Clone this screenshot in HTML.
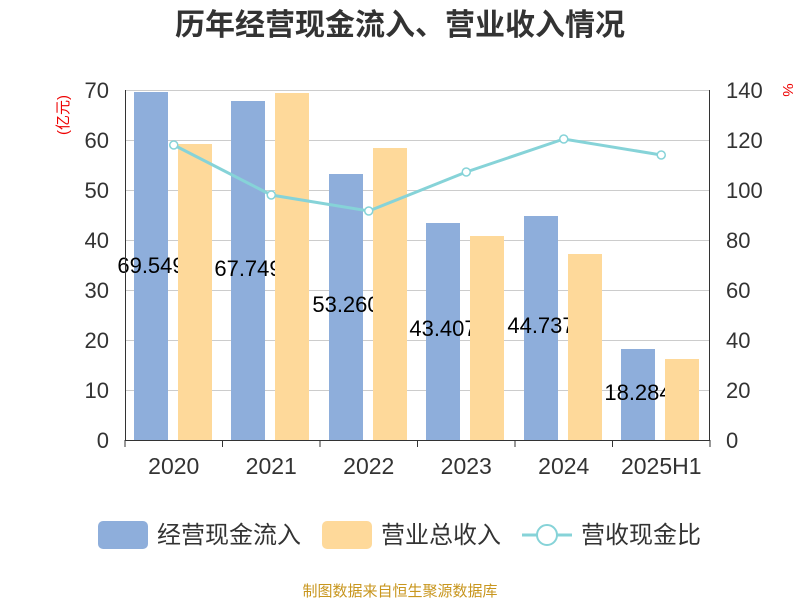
<!DOCTYPE html>
<html><head><meta charset="utf-8"><style>
body{margin:0;background:#fff}
svg text{font-family:"Liberation Sans","Noto Sans CJK SC",sans-serif}
</style></head><body>
<svg width="800" height="600" xmlns="http://www.w3.org/2000/svg">
<text x="400" y="35" text-anchor="middle" font-size="30" font-weight="bold" fill="#333">历年经营现金流入、营业收入情况</text>
<g stroke="#ccc" stroke-width="1">
<line x1="125" y1="90.5" x2="710" y2="90.5"/>
<line x1="125" y1="140.5" x2="710" y2="140.5"/>
<line x1="125" y1="190.5" x2="710" y2="190.5"/>
<line x1="125" y1="240.5" x2="710" y2="240.5"/>
<line x1="125" y1="290.5" x2="710" y2="290.5"/>
<line x1="125" y1="340.5" x2="710" y2="340.5"/>
<line x1="125" y1="390.5" x2="710" y2="390.5"/>
</g>
<g fill="#8eaedb">
<rect x="134" y="92" width="34" height="348"/>
<rect x="231" y="101" width="34" height="339"/>
<rect x="329" y="174" width="34" height="266"/>
<rect x="426" y="223" width="34" height="217"/>
<rect x="524" y="216" width="34" height="224"/>
<rect x="621" y="349" width="34" height="91"/>
</g>
<g font-size="22" fill="#000" text-anchor="middle">
<text x="151" y="273">69.549</text>
<text x="248" y="276">67.749</text>
<text x="346" y="312">53.260</text>
<text x="443" y="336">43.407</text>
<text x="541" y="333">44.737</text>
<text x="638" y="400">18.284</text>
</g>
<g fill="#fed99a">
<rect x="178" y="144" width="34" height="296"/>
<rect x="275" y="93" width="34" height="347"/>
<rect x="373" y="148" width="34" height="292"/>
<rect x="470" y="236" width="34" height="204"/>
<rect x="568" y="254" width="34" height="186"/>
<rect x="665" y="359" width="34" height="81"/>
</g>
<polyline points="173.75,145 271.25,195 368.75,211 466.25,172 563.75,139 661.25,155" fill="none" stroke="#86d3d8" stroke-width="3"/>
<g fill="#fff" stroke="#86d3d8" stroke-width="1.5">
<circle cx="173.75" cy="145" r="4"/><circle cx="271.25" cy="195" r="4"/><circle cx="368.75" cy="211" r="4"/>
<circle cx="466.25" cy="172" r="4"/><circle cx="563.75" cy="139" r="4"/><circle cx="661.25" cy="155" r="4"/>
</g>
<g stroke="#333" stroke-width="1">
<line x1="125.5" y1="90" x2="125.5" y2="440"/>
<line x1="709.5" y1="90" x2="709.5" y2="440"/>
<line x1="125" y1="440.5" x2="710" y2="440.5"/>
<line x1="125" y1="440" x2="125" y2="447"/><line x1="222.5" y1="440" x2="222.5" y2="447"/>
<line x1="320" y1="440" x2="320" y2="447"/><line x1="417.5" y1="440" x2="417.5" y2="447"/>
<line x1="515" y1="440" x2="515" y2="447"/><line x1="612.5" y1="440" x2="612.5" y2="447"/>
<line x1="710" y1="440" x2="710" y2="447"/>
</g>
<g font-size="22" fill="#333" text-anchor="end">
<text x="109" y="98">70</text><text x="109" y="148">60</text><text x="109" y="198">50</text>
<text x="109" y="248">40</text><text x="109" y="298">30</text><text x="109" y="348">20</text>
<text x="109" y="398">10</text><text x="109" y="448">0</text>
</g>
<g font-size="22" fill="#333" text-anchor="start">
<text x="726" y="98">140</text><text x="726" y="148">120</text><text x="726" y="198">100</text>
<text x="726" y="248">80</text><text x="726" y="298">60</text><text x="726" y="348">40</text>
<text x="726" y="398">20</text><text x="726" y="448">0</text>
</g>
<g font-size="23" fill="#333" text-anchor="middle">
<text x="173.75" y="474">2020</text><text x="271.25" y="474">2021</text><text x="368.75" y="474">2022</text>
<text x="466.25" y="474">2023</text><text x="563.75" y="474">2024</text><text x="661.25" y="474">2025H1</text>
</g>
<text transform="translate(68,115) rotate(-90)" font-size="15" fill="#e00" text-anchor="middle">(亿元)</text>
<text transform="translate(783,90) rotate(90)" font-size="15" fill="#e00" text-anchor="middle">%</text>
<rect x="98" y="521" width="50" height="28" rx="5" fill="#8eaedb"/>
<text x="157" y="543" font-size="24" fill="#333">经营现金流入</text>
<rect x="322" y="521" width="50" height="28" rx="5" fill="#fed99a"/>
<text x="381" y="543" font-size="24" fill="#333">营业总收入</text>
<line x1="522" y1="535" x2="572" y2="535" stroke="#86d3d8" stroke-width="3"/>
<circle cx="547" cy="535" r="10" fill="#fff" stroke="#86d3d8" stroke-width="2"/>
<text x="581" y="543" font-size="24" fill="#333">营收现金比</text>
<text x="400" y="596" font-size="15" fill="#c8961e" text-anchor="middle">制图数据来自恒生聚源数据库</text>
</svg>
</body></html>
